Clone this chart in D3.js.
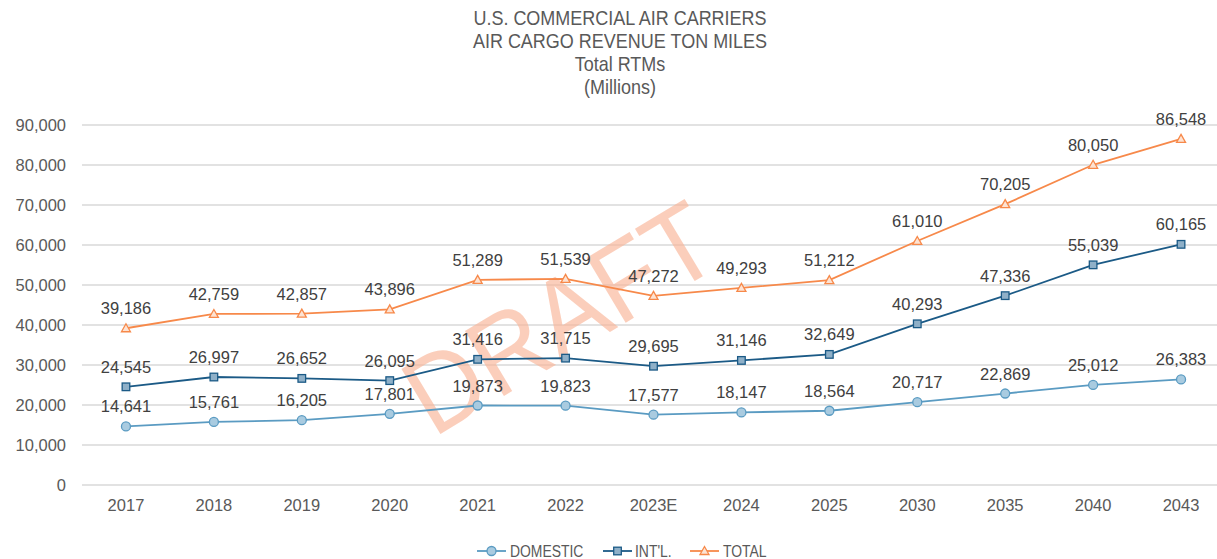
<!DOCTYPE html>
<html>
<head>
<meta charset="utf-8">
<script src="https://cdn.jsdelivr.net/npm/d3@7"></script>
<style>
  html, body { margin: 0; padding: 0; background: #fff; }
  svg { display: block; }
</style>
</head>
<body>
<svg id="chart" width="1217" height="559"></svg>
<script>
const categories = ["2017","2018","2019","2020","2021","2022","2023E","2024","2025","2030","2035","2040","2043"];
const domestic = [14641,15761,16205,17801,19873,19823,17577,18147,18564,20717,22869,25012,26383];
const intl     = [24545,26997,26652,26095,31416,31715,29695,31146,32649,40293,47336,55039,60165];
const total    = [39186,42759,42857,43896,51289,51539,47272,49293,51212,61010,70205,80050,86548];
const yTicks   = [0,10000,20000,30000,40000,50000,60000,70000,80000,90000];
const titleLines = ["U.S. COMMERCIAL AIR CARRIERS","AIR CARGO REVENUE TON MILES","Total RTMs","(Millions)"];
const seriesNames = ["DOMESTIC","INT'L.","TOTAL"];

const svg = d3.select("#chart");
const plot = {left: 82, right: 1225, top: 125, bottom: 485};
const font = "'Liberation Sans', Arial, sans-serif";

const x = d3.scaleBand().domain(categories).range([plot.left, plot.right]);
const y = d3.scaleLinear().domain([0, 90000]).range([plot.bottom, plot.top]);
const cx = c => x(c) + x.bandwidth() / 2;

// Title (condensed look)
svg.append("g").selectAll("text").data(titleLines).join("text")
  .attr("transform", (d, i) => `translate(620,${25 + i * 23}) scale(0.9,1)`)
  .attr("text-anchor", "middle")
  .attr("font-family", font).attr("font-size", 20)
  .attr("fill", "#595959").text(d => d);

// Gridlines
svg.append("g").selectAll("line").data(yTicks).join("line")
  .attr("x1", plot.left).attr("x2", plot.right)
  .attr("y1", d => y(d)).attr("y2", d => y(d))
  .attr("stroke", "#d9d9d9").attr("stroke-width", 1.3);

// Y axis labels
const yAxis = d3.axisLeft(y).tickValues(yTicks).tickFormat(d3.format(",")).tickSize(0).tickPadding(0);
const ya = svg.append("g").attr("transform", "translate(66,0)").call(yAxis);
ya.select(".domain").remove();
ya.selectAll("text").attr("font-family", font).attr("font-size", 16.5).attr("fill", "#595959");

// X axis labels
const xAxis = d3.axisBottom(x).tickSize(0).tickPadding(0);
const xa = svg.append("g").attr("transform", `translate(0,${plot.bottom + 14})`).call(xAxis);
xa.select(".domain").remove();
xa.selectAll("text").attr("font-family", font).attr("font-size", 16.5).attr("fill", "#595959");

// Watermark
svg.append("text")
  .attr("transform", "translate(560,318) rotate(-31) scale(0.93,1)")
  .attr("text-anchor", "middle").attr("dominant-baseline", "central")
  .attr("font-family", font).attr("font-size", 110)
  .attr("fill", "#f9b496").attr("fill-opacity", 0.65)
  .text("DRAFT");

const series = [
  {name: seriesNames[0], values: domestic, color: "#5a9bc2", fill: "#a9cbe0", marker: "circle"},
  {name: seriesNames[1], values: intl, color: "#1b5a86", fill: "#8fb0c8", marker: "square"},
  {name: seriesNames[2], values: total, color: "#f7894a", fill: "#fde3d3", marker: "triangle"}
];

function drawMarker(g, type, px, py, s) {
  if (type === "circle") {
    g.append("circle").attr("cx", px).attr("cy", py).attr("r", 4.5)
      .attr("fill", s.fill).attr("stroke", s.color).attr("stroke-width", 1.3);
  } else if (type === "square") {
    g.append("rect").attr("x", px - 3.8).attr("y", py - 3.8).attr("width", 7.6).attr("height", 7.6)
      .attr("fill", s.fill).attr("stroke", s.color).attr("stroke-width", 1.3);
  } else {
    g.append("path").attr("d", `M${px},${py - 4.5}L${px + 4.5},${py + 3.5}L${px - 4.5},${py + 3.5}Z`)
      .attr("fill", s.fill).attr("stroke", s.color).attr("stroke-width", 1.3);
  }
}

const line = d3.line().x((d, i) => cx(categories[i])).y(d => y(d));
series.forEach(s => {
  const g = svg.append("g");
  g.append("path").datum(s.values).attr("d", line)
    .attr("fill", "none").attr("stroke", s.color).attr("stroke-width", 1.8);
  s.values.forEach((v, i) => drawMarker(g, s.marker, cx(categories[i]), y(v), s));
  g.selectAll("text.lbl").data(s.values).join("text").attr("class", "lbl")
    .attr("x", (d, i) => cx(categories[i])).attr("y", d => y(d) - 14)
    .attr("text-anchor", "middle")
    .attr("font-family", font).attr("font-size", 16.5).attr("fill", "#404040")
    .text(d => d3.format(",")(d));
});

// Legend
const legendItems = [
  {s: series[0], lx: 477, tx: 510},
  {s: series[1], lx: 603, tx: 635},
  {s: series[2], lx: 690, tx: 723}
];
legendItems.forEach(it => {
  const g = svg.append("g");
  const ly = 551;
  g.append("line").attr("x1", it.lx).attr("x2", it.lx + 29).attr("y1", ly).attr("y2", ly)
    .attr("stroke", it.s.color).attr("stroke-width", 1.8);
  drawMarker(g, it.s.marker, it.lx + 14.5, ly, it.s);
  g.append("text").attr("transform", `translate(${it.tx},${ly + 6}) scale(0.87,1)`)
    .attr("font-family", font).attr("font-size", 16).attr("fill", "#595959")
    .text(it.s.name);
});
</script>
</body>
</html>
